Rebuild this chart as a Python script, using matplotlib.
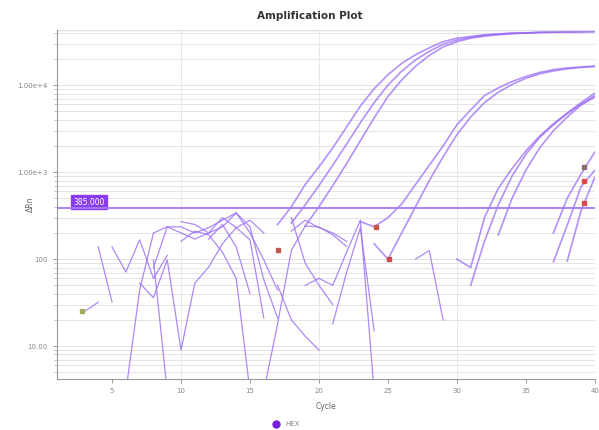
import matplotlib.pyplot as plt
from matplotlib.ticker import LogLocator, NullFormatter, FixedLocator

# ---- data (cycle, delta Rn) ----
# amplified wells: (first cycle, values per cycle)
group_a1 = (17, [250, 400, 720, 1150, 1900, 3300, 5750, 9100, 13200, 17800, 22400, 26900,
                 31600, 34700, 36300, 38000, 38900, 39800, 39800, 40700, 40700, 41000, 41200, 41700])
group_a2 = (18, [260, 420, 700, 1200, 2100, 3700, 6300, 10000, 14500, 19500, 24500, 29500,
                 33100, 35500, 37200, 38500, 39400, 40000, 40500, 40700, 41000, 41200, 41400])
group_a3 = (19, [240, 400, 700, 1250, 2300, 4200, 7400, 11500, 16500, 22000, 27500, 31600,
                 34700, 36700, 38000, 39000, 39800, 40300, 40700, 41000, 41200, 41400])
group_b1 = (23, [270, 235, 300, 430, 720, 1200, 2000, 3500, 5200, 7600, 9300, 11000, 12600,
                 14000, 15100, 15800, 16200, 16600])
group_b2 = (24, [150, 100, 200, 400, 800, 1500, 2700, 4300, 6300, 8300, 10200, 12000, 13500,
                 14600, 15400, 16000, 16400])
group_c1 = (30, [100, 80, 300, 650, 1100, 1750, 2600, 3600, 4800, 6300, 8100])
group_c2 = (31, [50, 160, 420, 900, 1600, 2500, 3500, 4700, 6000, 7600])
group_c3 = (33, [190, 500, 1050, 1900, 3000, 4300, 5900, 7300])
group_d1 = (37, [200, 500, 950, 1700])
group_d2 = (37, [93, 245, 680, 1050])
group_d3 = (38, [95, 360, 870])

# background-only wells (never cross threshold)
noise_wells = [
    (3, [25, 32]),
    (4, [138, 32]),
    (5, [138, 71, 167, 60, 110]),
    (6, [3, 44, 200, 235, 200, 170, 200, 235, 340, 235, 58, 21]),
    (7, [53, 36, 98, 9, 53, 81, 150, 230, 280, 200]),
    (8, [98, 3]),
    (8, [80, 235, 235, 200, 230, 280, 340, 200, 98, 44]),
    (10, [270, 250, 200, 300, 230, 167, 21]),
    (12, [170, 250, 138, 40]),
    (10, [160, 210, 190, 120, 60, 3]),
    (16, [3, 18, 126, 240, 235, 190, 140]),
    (18, [210, 280, 230, 200, 160]),
    (18, [300, 90, 50, 30]),
    (17, [50, 20, 13, 9]),
    (19, [50, 60, 50, 120, 280, 3]),
    (21, [18, 70, 230, 15]),
    (27, [100, 125, 20]),
]

amplified = [group_a1, group_a2, group_a3, group_b1, group_b2,
             group_c1, group_c2, group_c3, group_d1, group_d2, group_d3]

# point markers seen on the curves
marker_cycles = [2.8, 17.05, 24.1, 25.07, 39.2, 39.2, 39.2]
marker_values = [25, 126, 235, 100, 1150, 790, 440]
marker_colors = ['#a4ab62', '#c4584e', '#c4584e', '#d0484a', '#8c6c70', '#e0484c', '#e0484c']

threshold = 385
y_major = [10, 100, 1000, 10000]
y_major_labels = ['10.00', '100', '1.00e+3', '1.00e+4']
x_ticks = [5, 10, 15, 20, 25, 30, 35, 40]

line_color = '#9a6cf4'

fig = plt.figure(figsize=(5.99, 4.30), dpi=100)
ax = fig.add_axes([0.095, 0.119, 0.898, 0.811])

for start, vals in noise_wells:
    cyc = list(range(start, start + len(vals)))
    ax.plot(cyc, vals, color=line_color, lw=0.9, alpha=0.8)

for start, vals in amplified:
    cyc = list(range(start, start + len(vals)))
    ax.plot(cyc, vals, color=line_color, lw=1.2, alpha=0.75)

for c, v, col in zip(marker_cycles, marker_values, marker_colors):
    ax.plot(c, v, 's', color=col, ms=3.2, zorder=5)

ax.axhline(threshold, color='#a57af5', lw=1.3, zorder=4)
ax.text(2.2, threshold * 1.04, '385.000', fontsize=5.5, color='white', va='bottom', ha='left',
        bbox=dict(boxstyle='square,pad=0.3', fc='#8a3cf0', ec='#8a3cf0'))

ax.set_yscale('log')
ax.set_xlim(1, 40)
ax.set_ylim(4.2, 43000)

ax.yaxis.set_major_locator(FixedLocator(y_major))
ax.set_yticklabels(y_major_labels)
ax.yaxis.set_minor_locator(LogLocator(base=10, subs=range(2, 10)))
ax.yaxis.set_minor_formatter(NullFormatter())
ax.set_xticks(x_ticks)
ax.set_xticklabels([str(t) for t in x_ticks])

ax.grid(True, which='both', axis='y', color='#e4e4e4', lw=0.7)
ax.grid(False, axis='x')
for xv in [10, 20, 30]:
    ax.axvline(xv, color='#e8e8e8', lw=0.7, zorder=0)
ax.set_axisbelow(True)

ax.tick_params(axis='both', which='major', labelsize=5, colors='#888888', length=3, width=0.6)
ax.tick_params(axis='y', which='minor', length=2, width=0.5, colors='#aaaaaa')
for s in ['top', 'right']:
    ax.spines[s].set_visible(False)
for s in ['left', 'bottom']:
    ax.spines[s].set_color('#999999')
    ax.spines[s].set_linewidth(0.8)
ax.axhline(43000, color='#e0e0e0', lw=1.0)

ax.set_title('Amplification Plot', fontsize=7.5, fontweight='bold', color='#333333', pad=8, x=0.47)
ax.set_xlabel('Cycle', fontsize=5.5, color='#666666', labelpad=6)
ax.set_ylabel('ΔRn', fontsize=5.5, color='#666666')
ax.yaxis.set_label_coords(-0.041, 0.5)

fig.legend(handles=[plt.Line2D([], [], marker='o', ls='', color='#7a1fe0', ms=5, label='HEX')],
           loc='center', bbox_to_anchor=(0.475, 0.013), frameon=False, fontsize=5,
           labelcolor='#888888', handletextpad=0.4)

fig.savefig('out.png', dpi=100)
